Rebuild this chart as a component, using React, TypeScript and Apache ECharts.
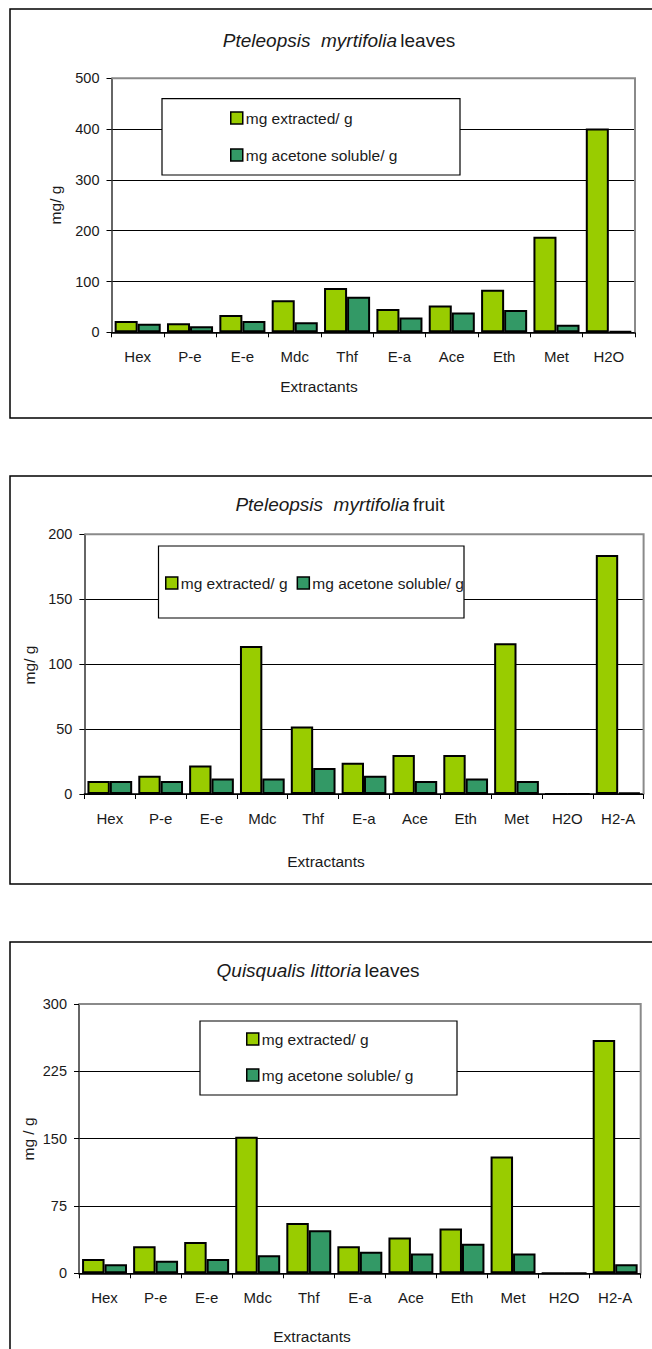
import React, { useEffect, useRef } from "react";
import * as echarts from "echarts";

const categoriesLeaves = ["Hex", "P-e", "E-e", "Mdc", "Thf", "E-a", "Ace", "Eth", "Met", "H2O"];
const categoriesFull = ["Hex", "P-e", "E-e", "Mdc", "Thf", "E-a", "Ace", "Eth", "Met", "H2O", "H2-A"];

const pmLeavesExtracted = [22, 18, 34, 63, 87, 46, 53, 84, 188, 401];
const pmLeavesAcetone = [17, 12, 22, 20, 70, 29, 39, 44, 15, 2];

const pmFruitExtracted = [10, 14, 22, 114, 52, 24, 30, 30, 116, 0, 184];
const pmFruitAcetone = [10, 10, 12, 12, 20, 14, 10, 12, 10, 0, 1];

const qlLeavesExtracted = [16, 30, 35, 152, 56, 30, 40, 50, 130, 0, 260];
const qlLeavesAcetone = [10, 14, 16, 20, 48, 24, 22, 33, 22, 0, 10];

const yTicks1 = [0, 100, 200, 300, 400, 500];
const yTicks2 = [0, 50, 100, 150, 200];
const yTicks3 = [0, 75, 150, 225, 300];

const NAME_EXT = "mg extracted/ g";
const NAME_ACE = "mg acetone soluble/ g";

const FONT = "'Liberation Sans', Arial, sans-serif";
const GREEN = "#99cc00";
const TEAL = "#339966";
const TXT = "#1a1a1a";

export default function App() {
  const ref = useRef<HTMLDivElement>(null);
  useEffect(() => {
    if (!ref.current) return;
    const chart = echarts.init(ref.current, undefined, { renderer: "svg" });

    const grids = [
      { left: 111.5, top: 78.3, width: 523.5, height: 254 },
      { left: 84.4, top: 534.3, width: 559.2, height: 259.7 },
      { left: 79, top: 1004, width: 561.7, height: 269.3 },
    ];
    const cats = [categoriesLeaves, categoriesFull, categoriesFull];
    const ticks = [yTicks1, yTicks2, yTicks3];
    const ext = [pmLeavesExtracted, pmFruitExtracted, qlLeavesExtracted];
    const ace = [pmLeavesAcetone, pmFruitAcetone, qlLeavesAcetone];

    const xAxis = cats.map((c, i) => ({
      type: "category",
      gridIndex: i,
      data: c,
      boundaryGap: true,
      axisLine: { show: true, lineStyle: { color: "#000", width: 1.5 } },
      axisTick: { show: true, length: 5, lineStyle: { color: "#000", width: 1 } },
      axisLabel: { color: TXT, fontFamily: FONT, fontSize: 15, margin: 17, interval: 0 },
      splitLine: { show: false },
    }));
    const yAxis = ticks.map((t, i) => ({
      type: "value",
      gridIndex: i,
      min: t[0],
      max: t[t.length - 1],
      interval: t[1] - t[0],
      axisLine: { show: true, lineStyle: { color: "#333", width: 1.5 } },
      axisTick: { show: true, length: 5, lineStyle: { color: "#000", width: 1 } },
      axisLabel: { color: TXT, fontFamily: FONT, fontSize: 14.5, margin: 12 },
      splitLine: { show: true, lineStyle: { color: "#000", width: 1 } },
    }));

    const barStyle = (color: string) => ({ color, borderColor: "#000", borderWidth: 2 });
    const series: any[] = [];
    for (let i = 0; i < 3; i++) {
      series.push({
        type: "bar",
        name: NAME_EXT,
        xAxisIndex: i,
        yAxisIndex: i,
        data: ext[i],
        barGap: "0%",
        barCategoryGap: "12%",
        itemStyle: barStyle(GREEN),
      });
      series.push({
        type: "bar",
        name: NAME_ACE,
        xAxisIndex: i,
        yAxisIndex: i,
        data: ace[i],
        barGap: "0%",
        barCategoryGap: "12%",
        itemStyle: barStyle(TEAL),
      });
    }

    const legendBase = {
      data: [NAME_EXT, NAME_ACE],
      icon: "rect",
      itemWidth: 12,
      itemHeight: 12,
      padding: 0,
      selectedMode: false,
      itemStyle: { borderColor: "#000", borderWidth: 1.5 },
      textStyle: { color: TXT, fontFamily: FONT, fontSize: 15.5, padding: [0, 0, 0, -2] },
    };
    const legend = [
      { ...legendBase, orient: "vertical", left: 230, top: 110, itemGap: 21 },
      { ...legendBase, orient: "horizontal", left: 165, top: 575, itemGap: 9 },
      { ...legendBase, orient: "vertical", left: 246, top: 1031, itemGap: 20 },
    ];

    const titleRich = {
      i: { fontStyle: "italic", fontFamily: FONT, fontSize: 19, fill: TXT },
      n: { fontFamily: FONT, fontSize: 19, fill: TXT },
    } as any;
    const mkTitle = (x: number, y: number, text: string) => ({
      type: "text",
      x,
      y,
      z: 5,
      style: { text, rich: titleRich, align: "center", verticalAlign: "middle", fill: TXT },
    });
    const mkText = (x: number, y: number, text: string, rot = 0) => ({
      type: "text",
      x,
      y,
      rotation: rot,
      z: 5,
      style: { text, fontFamily: FONT, fontSize: 15.5, fill: TXT, align: "center", verticalAlign: "middle" },
    });
    const frame = (x: number, y: number, w: number, h: number) => ({
      type: "rect",
      z: 1,
      shape: { x, y, width: w, height: h },
      style: { fill: "none", stroke: "#000", lineWidth: 1.5 },
    });
    const legendBox = (x: number, y: number, w: number, h: number) => ({
      type: "rect",
      z: 3,
      shape: { x, y, width: w, height: h },
      style: { fill: "#fff", stroke: "#000", lineWidth: 1.2 },
    });
    const plotEdge = (g: any) => ({
      type: "polyline",
      z: 3,
      shape: {
        points: [
          [g.left, g.top],
          [g.left + g.width, g.top],
          [g.left + g.width, g.top + g.height],
        ],
      },
      style: { fill: "none", stroke: "#8a8a8a", lineWidth: 2 },
    });

    const graphic = [
      frame(10, 9, 700, 409),
      frame(10, 476, 700, 408),
      frame(10, 942, 700, 500),
      plotEdge(grids[0]),
      plotEdge(grids[1]),
      plotEdge(grids[2]),
      legendBox(162, 98.7, 298, 76.3),
      legendBox(158.5, 546, 305.5, 72),
      legendBox(200, 1021, 257, 74),
      mkTitle(339, 40, "{i|Pteleopsis  myrtifolia} {n|leaves}"),
      mkTitle(340, 504, "{i|Pteleopsis  myrtifolia} {n|fruit}"),
      mkTitle(318, 970, "{i|Quisqualis littoria} {n|leaves}"),
      mkText(319, 386, "Extractants"),
      mkText(326, 861, "Extractants"),
      mkText(312, 1336, "Extractants"),
      mkText(55, 205, "mg/ g", Math.PI / 2),
      mkText(29, 665, "mg/ g", Math.PI / 2),
      mkText(28, 1139, "mg / g", Math.PI / 2),
    ];

    chart.setOption({
      animation: false,
      backgroundColor: "#fff",
      grid: grids.map((g) => ({ ...g, containLabel: false })),
      xAxis,
      yAxis,
      series,
      legend,
      graphic,
    } as any);

    return () => chart.dispose();
  }, []);

  return (
    <div
      ref={ref}
      style={{ position: "absolute", left: 0, top: 0, width: 652, height: 1349 }}
    />
  );
}
